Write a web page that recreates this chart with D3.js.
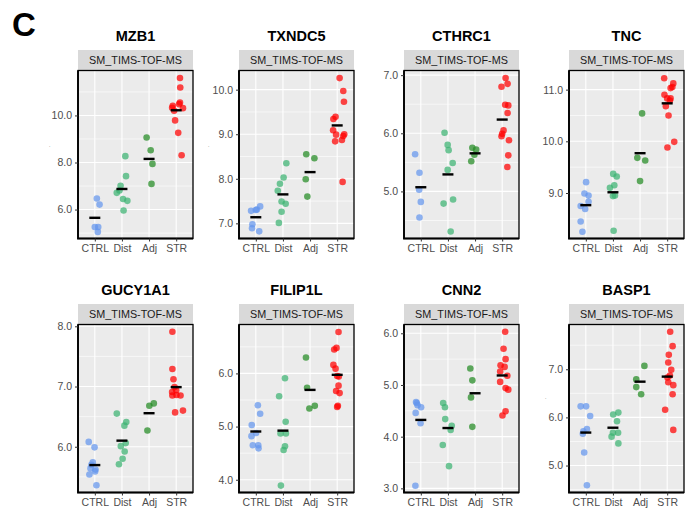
<!DOCTYPE html>
<html>
<head>
<meta charset="utf-8">
<script src="https://cdn.jsdelivr.net/npm/d3@7"></script>
<style>
  body { margin: 0; background: #fff; }
  text { font-family: "Liberation Sans", Arial, sans-serif; }
</style>
</head>
<body>
<script>
// groups and colours
var groups = ["CTRL", "Dist", "Adj", "STR"];
var groupColors = ["#6495ED", "#3CB371", "#228B22", "#FF0000"];

var genes = ["MZB1", "TXNDC5", "CTHRC1", "TNC", "GUCY1A1", "FILIP1L", "CNN2", "BASP1"];
var stripLabel = "SM_TIMS-TOF-MS";

// y limits and ticks, one per gene (same order as genes)
var yLimits = [[4.77, 11.91], [6.66, 10.43], [4.19, 7.08], [8.12, 11.37],
               [5.24, 8.03], [3.76, 6.92], [2.92, 6.17], [4.44, 7.93]];
var yTicks = [[6, 8, 10], [7, 8, 9, 10], [5, 6, 7], [9, 10, 11],
              [6, 7, 8], [4, 5, 6], [3, 4, 5, 6], [5, 6, 7]];
var yMinor = [[5, 7, 9, 11], [6.5, 7.5, 8.5, 9.5], [4.5, 5.5, 6.5], [8.5, 9.5, 10.5],
              [5.5, 6.5, 7.5], [4.5, 5.5, 6.5], [3.5, 4.5, 5.5], [4.5, 5.5, 6.5, 7.5]];

// points: [group, jitter (in category steps), value]
var MZB1 = [
  ["CTRL", 0.075, 6.47], ["CTRL", 0.175, 6.21], ["CTRL", 0, 5.26], ["CTRL", 0.125, 5.26], ["CTRL", 0.11, 5.05],
  ["Dist", 0.125, 8.27], ["Dist", 0.15, 7.42], ["Dist", -0.05, 7.01], ["Dist", -0.19, 6.71], ["Dist", -0.09, 6.81],
  ["Dist", 0.04, 6.45], ["Dist", 0.2, 6.37], ["Dist", 0.06, 5.96],
  ["Adj", -0.09, 9.06], ["Adj", 0.06, 8.52], ["Adj", 0.125, 7.94], ["Adj", 0.09, 7.09],
  ["STR", 0.14, 11.59], ["STR", 0.15, 11.19], ["STR", 0.14, 10.55], ["STR", 0.11, 10.48], ["STR", -0.125, 10.41],
  ["STR", -0.15, 10.33], ["STR", 0.25, 10.31], ["STR", -0.075, 10.2], ["STR", -0.04, 9.79], ["STR", 0.075, 9.26],
  ["STR", 0.2, 8.31]
];
var TXNDC5 = [
  ["CTRL", -0.175, 7.28], ["CTRL", 0, 7.30], ["CTRL", 0.04, 7.31], ["CTRL", 0.16, 7.38], ["CTRL", -0.125, 6.98],
  ["CTRL", -0.14, 6.89], ["CTRL", 0.125, 6.82],
  ["Dist", 0.125, 8.35], ["Dist", 0.025, 8.03], ["Dist", -0.11, 7.89], ["Dist", -0.19, 7.73], ["Dist", -0.05, 7.49],
  ["Dist", 0.1, 7.44], ["Dist", -0.05, 7.26], ["Dist", -0.15, 7.01],
  ["Adj", -0.14, 8.55], ["Adj", 0.16, 8.46], ["Adj", -0.16, 7.99], ["Adj", -0.1, 7.6],
  ["STR", 0.09, 10.26], ["STR", 0.225, 9.97], ["STR", 0.25, 9.73], ["STR", -0.06, 9.39], ["STR", -0.14, 9.34],
  ["STR", -0.15, 9.09], ["STR", -0.04, 8.99], ["STR", 0.26, 9.0], ["STR", 0.225, 8.96], ["STR", -0.075, 8.84],
  ["STR", 0.175, 8.87], ["STR", 0.2, 7.93]
];
var CTHRC1 = [
  ["CTRL", -0.21, 5.64], ["CTRL", -0.05, 5.32], ["CTRL", -0.06, 5.03], ["CTRL", 0, 4.82], ["CTRL", -0.05, 4.55],
  ["Dist", -0.125, 6.01], ["Dist", -0.01, 5.80], ["Dist", 0.025, 5.71], ["Dist", 0.175, 5.49], ["Dist", -0.01, 5.37],
  ["Dist", -0.16, 4.79], ["Dist", 0.19, 4.86], ["Dist", 0.1, 4.31],
  ["Adj", -0.1, 5.75], ["Adj", 0.04, 5.72], ["Adj", -0.025, 5.63], ["Adj", -0.14, 5.52],
  ["STR", 0.125, 6.95], ["STR", 0.2, 6.85], ["STR", -0.025, 6.8], ["STR", 0.11, 6.49], ["STR", 0.225, 6.48],
  ["STR", 0.2, 6.35], ["STR", 0.05, 6.05], ["STR", 0, 5.99], ["STR", -0.025, 5.95], ["STR", 0.25, 5.88],
  ["STR", 0.225, 5.62], ["STR", 0.19, 5.42]
];
var TNC = [
  ["CTRL", 0.01, 9.21], ["CTRL", -0.05, 8.99], ["CTRL", 0.1, 8.95], ["CTRL", 0.1, 8.83], ["CTRL", -0.19, 8.75],
  ["CTRL", -0.025, 8.69], ["CTRL", -0.19, 8.45], ["CTRL", -0.125, 8.25],
  ["Dist", 0.01, 9.37], ["Dist", 0.14, 9.32], ["Dist", 0.05, 9.15], ["Dist", -0.11, 9.10], ["Dist", 0.075, 8.95],
  ["Dist", 0, 8.94], ["Dist", 0.025, 8.27],
  ["Adj", 0.075, 10.54], ["Adj", -0.1, 9.68], ["Adj", 0.19, 9.63], ["Adj", 0, 9.23],
  ["STR", -0.11, 11.22], ["STR", 0.225, 11.12], ["STR", 0.19, 11.05], ["STR", 0.125, 11.03], ["STR", -0.1, 10.9],
  ["STR", 0, 10.83], ["STR", 0.125, 10.83], ["STR", 0.1, 10.79], ["STR", -0.05, 10.68], ["STR", 0.05, 10.5],
  ["STR", 0.26, 9.99], ["STR", 0.01, 9.88]
];
var GUCY1A1 = [
  ["CTRL", -0.225, 6.08], ["CTRL", -0.01, 5.99], ["CTRL", -0.075, 5.74], ["CTRL", -0.125, 5.70], ["CTRL", -0.16, 5.64],
  ["CTRL", 0.025, 5.62], ["CTRL", 0.01, 5.59], ["CTRL", -0.2, 5.54], ["CTRL", 0.06, 5.36],
  ["Dist", -0.19, 6.55], ["Dist", 0.16, 6.41], ["Dist", 0.09, 6.35], ["Dist", 0.14, 6.06], ["Dist", -0.04, 6.01],
  ["Dist", 0.1, 5.92], ["Dist", 0.025, 5.80], ["Dist", -0.11, 5.71],
  ["Adj", 0.175, 6.72], ["Adj", 0.01, 6.68], ["Adj", -0.06, 6.27],
  ["STR", -0.14, 7.91], ["STR", -0.14, 7.29], ["STR", -0.1, 7.12], ["STR", -0.06, 6.99], ["STR", 0, 6.94],
  ["STR", -0.15, 6.91], ["STR", -0.14, 6.85], ["STR", 0.16, 6.85], ["STR", 0.01, 6.86], ["STR", 0.25, 6.60],
  ["STR", -0.04, 6.57]
];
var FILIP1L = [
  ["CTRL", 0.075, 5.40], ["CTRL", 0.16, 5.24], ["CTRL", -0.15, 5.03], ["CTRL", -0.16, 4.82], ["CTRL", 0.01, 4.88],
  ["CTRL", -0.11, 4.65], ["CTRL", 0.09, 4.65], ["CTRL", 0.1, 4.59],
  ["Dist", 0.075, 5.91], ["Dist", -0.14, 5.57], ["Dist", 0.1, 5.09], ["Dist", -0.09, 4.87], ["Dist", 0.11, 4.87],
  ["Dist", 0.075, 4.63], ["Dist", 0.025, 4.56], ["Dist", -0.075, 3.89],
  ["Adj", -0.15, 6.30], ["Adj", -0.11, 5.73], ["Adj", 0.175, 5.39], ["Adj", -0.025, 5.34],
  ["STR", 0.05, 6.78], ["STR", -0.025, 6.48], ["STR", -0.11, 6.45], ["STR", -0.14, 6.16], ["STR", -0.06, 6.09],
  ["STR", 0, 5.95], ["STR", 0.06, 5.94], ["STR", 0.05, 5.77], ["STR", -0.04, 5.67], ["STR", 0.09, 5.63],
  ["STR", 0, 5.37], ["STR", 0.025, 5.39]
];
var CNN2 = [
  ["CTRL", -0.175, 4.67], ["CTRL", -0.15, 4.65], ["CTRL", -0.12, 4.61], ["CTRL", 0.01, 4.57], ["CTRL", -0.19, 4.46],
  ["CTRL", -0.01, 4.26], ["CTRL", -0.2, 3.05],
  ["Dist", -0.175, 4.65], ["Dist", -0.11, 4.57], ["Dist", -0.1, 4.34], ["Dist", 0.14, 4.21], ["Dist", 0.1, 4.13],
  ["Dist", -0.19, 3.84], ["Dist", 0.04, 3.43],
  ["Adj", -0.175, 5.32], ["Adj", -0.1, 5.09], ["Adj", -0.15, 4.76], ["Adj", -0.1, 4.19],
  ["STR", 0.11, 6.03], ["STR", 0.05, 5.70], ["STR", 0.125, 5.50], ["STR", -0.06, 5.38], ["STR", 0.09, 5.35],
  ["STR", -0.075, 5.26], ["STR", 0.19, 5.18], ["STR", -0.075, 5.06], ["STR", 0.125, 4.94], ["STR", 0.225, 4.91],
  ["STR", 0.125, 4.49], ["STR", 0.01, 4.41]
];
var BASP1 = [
  ["CTRL", -0.19, 6.23], ["CTRL", 0.01, 6.23], ["CTRL", 0.16, 6.03], ["CTRL", 0.04, 5.76], ["CTRL", -0.09, 5.71],
  ["CTRL", -0.11, 5.66], ["CTRL", -0.06, 5.27], ["CTRL", 0.04, 4.59],
  ["Dist", 0.2, 6.10], ["Dist", 0.01, 6.06], ["Dist", 0.15, 5.92], ["Dist", 0.19, 5.68], ["Dist", 0, 5.68],
  ["Dist", -0.05, 5.60], ["Dist", 0.2, 5.46],
  ["Adj", 0.16, 7.07], ["Adj", -0.14, 6.79], ["Adj", -0.14, 6.63], ["Adj", 0.04, 6.48],
  ["STR", 0.11, 7.78], ["STR", 0.2, 7.48], ["STR", 0.06, 7.30], ["STR", 0.04, 7.14], ["STR", 0.15, 6.99],
  ["STR", 0.1, 6.87], ["STR", 0.01, 6.83], ["STR", 0.04, 6.73], ["STR", 0.225, 6.67], ["STR", 0.2, 6.48],
  ["STR", -0.075, 6.16], ["STR", 0.225, 5.74]
];
var geneData = [MZB1, TXNDC5, CTHRC1, TNC, GUCY1A1, FILIP1L, CNN2, BASP1];

// layout
var W = 695, H = 513;
var colX = [78, 239, 404, 569];
var rowTop = [50, 304];
var panelW = 115, stripH = 20.5, panelH = 168;

var svg = d3.select("body").append("svg")
    .attr("width", W)
    .attr("height", H);

// panel letter
svg.append("text")
    .attr("x", 12)
    .attr("y", 36)
    .attr("font-size", 33)
    .attr("font-weight", "bold")
    .attr("fill", "#000")
    .text("C");

var color = d3.scaleOrdinal().domain(groups).range(groupColors);

var x = d3.scalePoint()
    .domain(groups)
    .range([0, panelW])
    .padding(0.62);
var step = x.step();

genes.forEach(function(gene, i) {
    var col = i % 4, row = Math.floor(i / 4);
    var data = geneData[i];

    var y = d3.scaleLinear()
        .domain(yLimits[i])
        .range([panelH, 0]);

    var g = svg.append("g")
        .attr("transform", "translate(" + colX[col] + "," + rowTop[row] + ")");

    // title
    g.append("text")
        .attr("x", panelW / 2)
        .attr("y", -9)
        .attr("text-anchor", "middle")
        .attr("font-size", 14.5)
        .attr("font-weight", "bold")
        .attr("fill", "#000")
        .text(gene);

    // strip
    g.append("rect")
        .attr("width", panelW)
        .attr("height", stripH)
        .attr("fill", "#D9D9D9");
    g.append("text")
        .attr("x", panelW / 2)
        .attr("y", stripH / 2 + 3.8)
        .attr("text-anchor", "middle")
        .attr("font-size", 10.8)
        .attr("fill", "#1A1A1A")
        .text(stripLabel);

    var p = g.append("g")
        .attr("transform", "translate(0," + stripH + ")");

    p.append("rect")
        .attr("width", panelW)
        .attr("height", panelH)
        .attr("fill", "#EBEBEB");

    // grid
    var lo = yLimits[i][0], hi = yLimits[i][1];
    p.selectAll(".minor")
      .data(yMinor[i].filter(function(d) { return d > lo && d < hi; }))
      .enter().append("line")
        .attr("x1", 0).attr("x2", panelW)
        .attr("y1", function(d) { return y(d); })
        .attr("y2", function(d) { return y(d); })
        .attr("stroke", "#fff")
        .attr("stroke-width", 0.6);
    p.selectAll(".major")
      .data(yTicks[i])
      .enter().append("line")
        .attr("x1", 0).attr("x2", panelW)
        .attr("y1", function(d) { return y(d); })
        .attr("y2", function(d) { return y(d); })
        .attr("stroke", "#fff")
        .attr("stroke-width", 1.1);
    p.selectAll(".vgrid")
      .data(groups)
      .enter().append("line")
        .attr("x1", function(d) { return x(d); })
        .attr("x2", function(d) { return x(d); })
        .attr("y1", 0).attr("y2", panelH)
        .attr("stroke", "#fff")
        .attr("stroke-width", 1.1);

    // points
    p.selectAll("circle")
      .data(data)
      .enter().append("circle")
        .attr("cx", function(d) { return x(d[0]) + d[1] * step; })
        .attr("cy", function(d) { return y(d[2]); })
        .attr("r", 3.3)
        .attr("fill", function(d) { return color(d[0]); })
        .attr("fill-opacity", 0.72);

    // group means
    var means = groups.map(function(gr) {
        return [gr, d3.mean(data.filter(function(d) { return d[0] == gr; }), function(d) { return d[2]; })];
    });
    p.selectAll(".mean")
      .data(means)
      .enter().append("line")
        .attr("x1", function(d) { return x(d[0]) - 5.5; })
        .attr("x2", function(d) { return x(d[0]) + 5.5; })
        .attr("y1", function(d) { return y(d[1]); })
        .attr("y2", function(d) { return y(d[1]); })
        .attr("stroke", "#000")
        .attr("stroke-width", 2.4);

    // border
    p.append("rect")
        .attr("width", panelW)
        .attr("height", panelH)
        .attr("fill", "none")
        .attr("stroke", "#000")
        .attr("stroke-width", 1.3);
    p.append("path")
        .attr("d", "M0,0V" + panelH + "H" + panelW)
        .attr("fill", "none")
        .attr("stroke", "#000")
        .attr("stroke-width", 1.8);

    // axes
    var ya = p.append("g")
        .call(d3.axisLeft(y).tickValues(yTicks[i]).tickFormat(d3.format(".1f")).tickSize(3));
    var xa = p.append("g")
        .attr("transform", "translate(0," + panelH + ")")
        .call(d3.axisBottom(x).tickSize(3));
    [ya, xa].forEach(function(a) {
        a.select(".domain").remove();
        a.selectAll("line").attr("stroke", "#333");
        a.selectAll("text")
            .attr("fill", "#4D4D4D")
            .attr("font-size", 10.5)
            .attr("font-family", "Liberation Sans, Arial, sans-serif");
    });
});

// stray tiny y-axis titles seen in the original
var dots = [[49, 147], [208, 147], [545, 399]];
svg.selectAll(".dot")
  .data(dots)
  .enter().append("text")
    .attr("x", function(d) { return d[0]; })
    .attr("y", function(d) { return d[1]; })
    .attr("font-size", 5)
    .attr("fill", "#555")
    .text(".");
</script>
</body>
</html>
